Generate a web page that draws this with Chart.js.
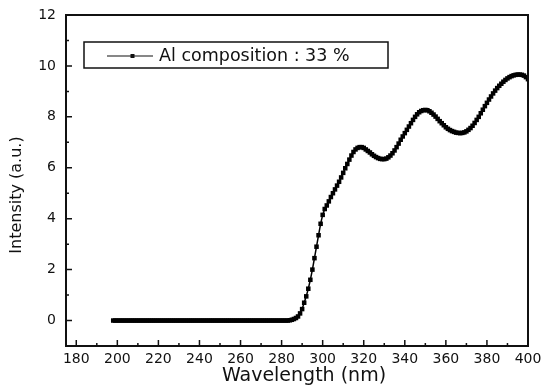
<!DOCTYPE html>
<html>
<head>
<meta charset="utf-8">
<script src="https://cdn.jsdelivr.net/npm/chart.js@4"></script>
<style>
  html, body { margin: 0; padding: 0; background: #fff; }
  #wrap { width: 542px; height: 391px; }
</style>
</head>
<body>
<div id="wrap"><canvas id="c" width="542" height="391"></canvas></div>
<script>
// wavelength in nm, 1 nm step from 198 to 400
const wavelengths = [];
for (let w = 198; w <= 400; w++) wavelengths.push(w);

// intensity (a.u.)
const flatPart = [
  0,0,0,0,0,0,0,0,0,0, 0,0,0,0,0,0,0,0,0,0,
  0,0,0,0,0,0,0,0,0,0, 0,0,0,0,0,0,0,0,0,0,
  0,0,0,0,0,0,0,0,0,0, 0,0,0,0,0,0,0,0,0,0,
  0,0,0,0,0,0,0,0,0,0, 0,0,0,0,0,0,0,0,0,0,
  0,0,0,0,0,0             // 198 .. 283
];
const edgePart = [
  0.01, 0.03, 0.06, 0.10, 0.16, 0.28, 0.45, 0.70, 0.95, 1.25, // 284 .. 293
  1.60, 2.00, 2.45, 2.90, 3.35, 3.80, 4.15, 4.38, 4.52, 4.68, // 294 .. 303
  4.85, 5.00, 5.15, 5.30, 5.45, 5.62, 5.80, 5.98, 6.15, 6.32, // 304 .. 313
  6.48, 6.62, 6.72, 6.78, 6.81, 6.81, 6.78, 6.72, 6.66, 6.60, // 314 .. 323
  6.53, 6.47, 6.42, 6.38, 6.35, 6.34, 6.34, 6.36, 6.41, 6.48, // 324 .. 333
  6.57, 6.68, 6.81, 6.95, 7.10, 7.23, 7.36, 7.49, 7.62, 7.75, // 334 .. 343
  7.88, 8.00, 8.10, 8.18, 8.23, 8.26, 8.27, 8.26, 8.22, 8.16, // 344 .. 353
  8.09, 8.01, 7.92, 7.83, 7.75, 7.67, 7.59, 7.53, 7.48, 7.44, // 354 .. 363
  7.41, 7.38, 7.37, 7.36, 7.37, 7.39, 7.43, 7.49, 7.56, 7.65, // 364 .. 373
  7.76, 7.88, 8.00, 8.14, 8.28, 8.42, 8.55, 8.68, 8.80, 8.92, // 374 .. 383
  9.03, 9.13, 9.22, 9.30, 9.38, 9.45, 9.51, 9.56, 9.60, 9.63, // 384 .. 393
  9.65, 9.66, 9.66, 9.65, 9.62, 9.56, 9.48                    // 394 .. 400
];
const intensity = flatPart.concat(edgePart);

const xTicks = [180, 200, 220, 240, 260, 280, 300, 320, 340, 360, 380, 400];
const xMinorTicks = [190, 210, 230, 250, 270, 290, 310, 330, 350, 370, 390];
const yTicks = [0, 2, 4, 6, 8, 10, 12];
const yMinorTicks = [-1, 1, 3, 5, 7, 9, 11];

const seriesLabel = 'Al composition : 33 %';
const xTitle = 'Wavelength (nm)';
const yTitle = 'Intensity (a.u.)';

const FONT = '"DejaVu Sans", "Liberation Sans", Arial, sans-serif';

// frame, inward ticks, axis titles and the boxed legend
const decorations = {
  id: 'decorations',
  afterDraw(chart) {
    const ctx = chart.ctx;
    const a = chart.chartArea;
    const xs = chart.scales.x, ys = chart.scales.y;
    ctx.save();
    ctx.strokeStyle = '#111';
    ctx.lineWidth = 2;
    ctx.strokeRect(a.left, a.top, a.right - a.left, a.bottom - a.top);

    ctx.lineWidth = 1.5;
    ctx.beginPath();
    xTicks.forEach(v => { const p = xs.getPixelForValue(v); ctx.moveTo(p, a.bottom); ctx.lineTo(p, a.bottom - 6); });
    xMinorTicks.forEach(v => { const p = xs.getPixelForValue(v); ctx.moveTo(p, a.bottom); ctx.lineTo(p, a.bottom - 3); });
    yTicks.forEach(v => { const p = ys.getPixelForValue(v); ctx.moveTo(a.left, p); ctx.lineTo(a.left + 6, p); });
    yMinorTicks.forEach(v => { const p = ys.getPixelForValue(v); ctx.moveTo(a.left, p); ctx.lineTo(a.left + 3, p); });
    ctx.stroke();

    ctx.fillStyle = '#111';
    ctx.textAlign = 'center';
    ctx.textBaseline = 'middle';
    ctx.font = '19px ' + FONT;
    ctx.fillText(xTitle, 304, 376);
    ctx.save();
    ctx.translate(17, 195);
    ctx.rotate(-Math.PI / 2);
    ctx.font = '16px ' + FONT;
    ctx.fillText(yTitle, 0, 0);
    ctx.restore();

    // legend box
    ctx.lineWidth = 1.5;
    ctx.strokeRect(84, 42, 304, 26);
    ctx.lineWidth = 1.2;
    ctx.beginPath();
    ctx.moveTo(107, 56); ctx.lineTo(153, 56);
    ctx.stroke();
    ctx.fillRect(130.5, 54, 4, 4);
    ctx.textAlign = 'left';
    ctx.font = '17.5px ' + FONT;
    ctx.fillText(seriesLabel, 159, 56);
    ctx.restore();
  }
};

new Chart(document.getElementById('c'), {
  type: 'line',
  data: {
    labels: wavelengths,
    datasets: [{
      label: seriesLabel,
      data: wavelengths.map((w, i) => ({ x: w, y: intensity[i] })),
      borderColor: '#000',
      backgroundColor: '#000',
      borderWidth: 1.5,
      pointStyle: 'rect',
      pointRadius: 3.2,
      pointBorderWidth: 0,
      pointBackgroundColor: '#000',
      tension: 0
    }]
  },
  options: {
    responsive: false,
    animation: false,
    devicePixelRatio: 1,
    layout: { padding: { top: 15, right: 14, left: 0, bottom: 0 } },
    plugins: { legend: { display: false }, tooltip: { enabled: false } },
    scales: {
      x: {
        type: 'linear',
        min: 175,
        max: 400,
        afterFit: s => { s.height = 45; s.paddingLeft = 0; s.paddingRight = 0; },
        afterBuildTicks: s => { s.ticks = xTicks.map(v => ({ value: v })); },
        grid: { display: false, drawTicks: false },
        border: { display: false },
        ticks: { color: '#111', padding: 5, maxRotation: 0, font: { family: FONT, size: 14 } }
      },
      y: {
        type: 'linear',
        min: -1,
        max: 12,
        afterFit: s => { s.width = 66; s.paddingTop = 0; s.paddingBottom = 0; },
        afterBuildTicks: s => { s.ticks = yTicks.map(v => ({ value: v })); },
        grid: { display: false, drawTicks: false },
        border: { display: false },
        ticks: { color: '#111', padding: 10, font: { family: FONT, size: 14 } }
      }
    }
  },
  plugins: [decorations]
});
</script>
</body>
</html>
